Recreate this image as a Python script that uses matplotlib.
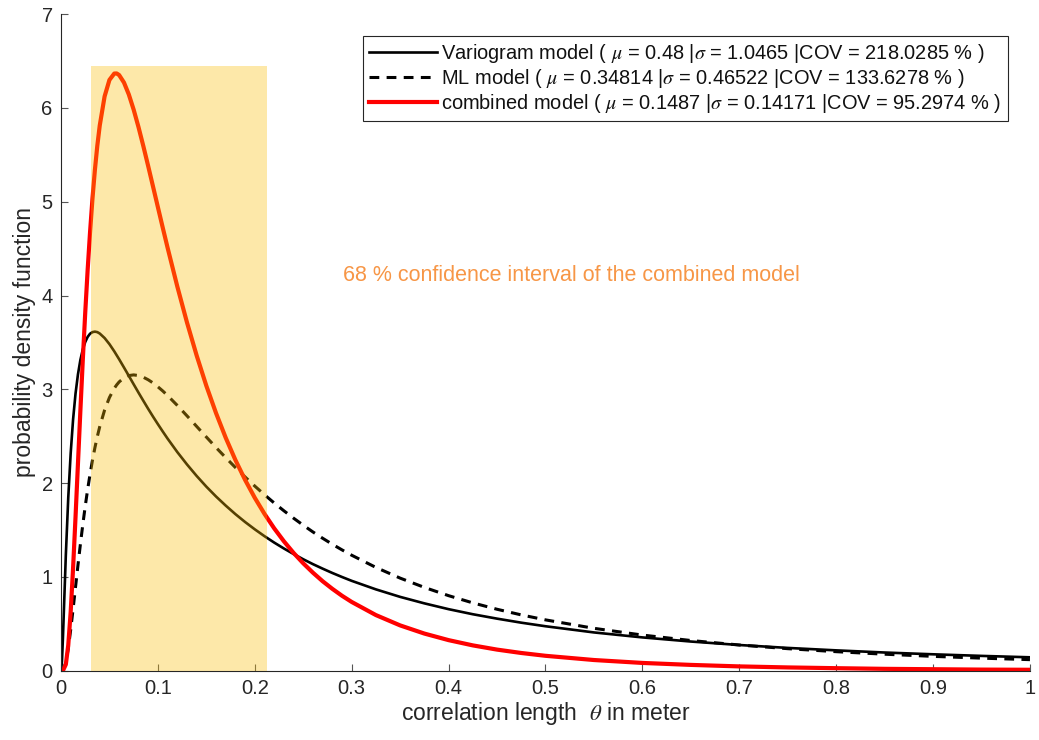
import matplotlib
matplotlib.use("Agg")
import matplotlib.pyplot as plt
from matplotlib.patches import Rectangle

# correlation length grid (m) and pdf values
theta = [0, 0.001, 0.002, 0.005, 0.0075, 0.01, 0.0125, 0.015, 0.0175, 0.02,
         0.0225, 0.025, 0.0275, 0.03, 0.0325, 0.035, 0.0375, 0.04, 0.045, 0.05,
         0.055, 0.0575, 0.06, 0.065, 0.07, 0.075, 0.08, 0.085, 0.09, 0.095, 0.1,
         0.105, 0.11, 0.12, 0.13, 0.14, 0.15, 0.16, 0.17, 0.18, 0.19,
         0.2, 0.21, 0.22, 0.23, 0.24, 0.25, 0.26, 0.27, 0.28, 0.29,
         0.3, 0.325, 0.35, 0.375, 0.4, 0.425, 0.45, 0.475, 0.5, 0.55,
         0.6, 0.65, 0.7, 0.75, 0.8, 0.85, 0.9, 0.95, 1.0]

pdf_variogram = [0, 0.099, 0.351, 1.234, 1.845, 2.319, 2.681, 2.954, 3.159, 3.313,
                 3.425, 3.504, 3.559, 3.593, 3.610, 3.615, 3.610, 3.595, 3.547, 3.482,
                 3.405, 3.363, 3.321, 3.233, 3.144, 3.054, 2.965, 2.878, 2.792, 2.709, 2.629,
                 2.551, 2.475, 2.332, 2.200, 2.077, 1.963, 1.858, 1.761, 1.670, 1.586,
                 1.508, 1.435, 1.367, 1.304, 1.245, 1.189, 1.137, 1.089, 1.043, 1.000,
                 0.959, 0.868, 0.788, 0.719, 0.657, 0.603, 0.556, 0.513, 0.475, 0.409,
                 0.356, 0.312, 0.275, 0.244, 0.218, 0.195, 0.176, 0.159, 0.144]

pdf_ml = [0, 0.0004, 0.005, 0.088, 0.238, 0.437, 0.660, 0.893, 1.124, 1.347,
          1.558, 1.753, 1.933, 2.096, 2.245, 2.378, 2.497, 2.603, 2.779, 2.913,
          3.011, 3.048, 3.079, 3.123, 3.147, 3.154, 3.147, 3.129, 3.102, 3.068, 3.027,
          2.983, 2.934, 2.829, 2.718, 2.605, 2.492, 2.380, 2.272, 2.167, 2.066,
          1.969, 1.877, 1.789, 1.706, 1.627, 1.552, 1.480, 1.413, 1.349, 1.289,
          1.232, 1.102, 0.988, 0.889, 0.801, 0.724, 0.656, 0.596, 0.543, 0.453,
          0.381, 0.323, 0.275, 0.236, 0.204, 0.177, 0.154, 0.135, 0.119]

pdf_combined = [0, 0.0, 0.001, 0.068, 0.273, 0.628, 1.099, 1.638, 2.206, 2.771,
                3.312, 3.814, 4.271, 4.677, 5.034, 5.339, 5.598, 5.812, 6.122, 6.298,
                6.366, 6.367, 6.350, 6.270, 6.143, 5.981, 5.795, 5.592, 5.379, 5.161, 4.942,
                4.724, 4.510, 4.098, 3.714, 3.361, 3.038, 2.747, 2.484, 2.247, 2.035,
                1.844, 1.673, 1.519, 1.381, 1.257, 1.146, 1.046, 0.955, 0.874, 0.800,
                0.734, 0.594, 0.484, 0.397, 0.327, 0.271, 0.226, 0.190, 0.160, 0.115,
                0.084, 0.063, 0.047, 0.036, 0.028, 0.021, 0.017, 0.013, 0.011]

# 68 % interval of the combined model (x from, x to, height of the band)
ci_bounds = [0.0314, 0.2128]
ci_height = 6.45

labels = [
    r'Variogram model ( $\mu$ = 0.48 |$\sigma$ = 1.0465 |COV = 218.0285 % )',
    r'ML model ( $\mu$ = 0.34814 |$\sigma$ = 0.46522 |COV = 133.6278 % )',
    r'combined model ( $\mu$ = 0.1487 |$\sigma$ = 0.14171 |COV = 95.2974 % )',
]

plt.rcParams['font.family'] = ['Liberation Sans', 'DejaVu Sans']
plt.rcParams['mathtext.fontset'] = 'stix'

fig = plt.figure(figsize=(10.39, 7.40), dpi=100)
ax = fig.add_axes([0.0587, 0.0935, 0.9326, 0.8875])

ax.plot(theta, pdf_variogram, color='black', lw=1.9, label=labels[0], zorder=2)
ax.plot(theta, pdf_ml, color='black', lw=2.2, ls=(0, (3.2, 2.4)), label=labels[1], zorder=2)
ax.plot(theta, pdf_combined, color='red', lw=3.0, label=labels[2], zorder=2)

# semi transparent band drawn over the curves
ax.add_patch(Rectangle((ci_bounds[0], 0), ci_bounds[1] - ci_bounds[0], ci_height,
                       facecolor=(0.98, 0.74, 0.02), edgecolor='none', alpha=0.34, zorder=3))
ax.text(0.291, 4.21, '68 % confidence interval of the combined model',
        color='#F79646', fontsize=15.5, va='center', ha='left')

ax.set_xlim(0, 1)
ax.set_ylim(0, 7)
ax.set_xticks([i / 10 for i in range(11)])
ax.set_xticklabels(['0', '0.1', '0.2', '0.3', '0.4', '0.5', '0.6', '0.7', '0.8', '0.9', '1'])
ax.set_yticks(range(8))

for s in ['top', 'right']:
    ax.spines[s].set_visible(False)
for s in ['left', 'bottom']:
    ax.spines[s].set_color('#262626')
    ax.spines[s].set_linewidth(0.8)
ax.tick_params(direction='in', length=5, width=0.8, color='#555555',
               labelsize=14.5, labelcolor='#262626', pad=6)

ax.set_xlabel(r'correlation length  $\theta$ in meter', fontsize=16.5, color='#262626', labelpad=1)
ax.set_ylabel('probability density function', fontsize=16.5, color='#262626', labelpad=4)

leg = ax.legend(loc='upper right', bbox_to_anchor=(0.977, 0.966), fontsize=14.4,
                handlelength=3.4, handletextpad=0.2, labelspacing=0.08,
                borderpad=0.3, borderaxespad=0, fancybox=False, framealpha=1)
leg.get_frame().set_edgecolor('#262626')
leg.get_frame().set_linewidth(0.8)
for t in leg.get_texts():
    t.set_color('#111111')

fig.savefig('out.png', dpi=100)
